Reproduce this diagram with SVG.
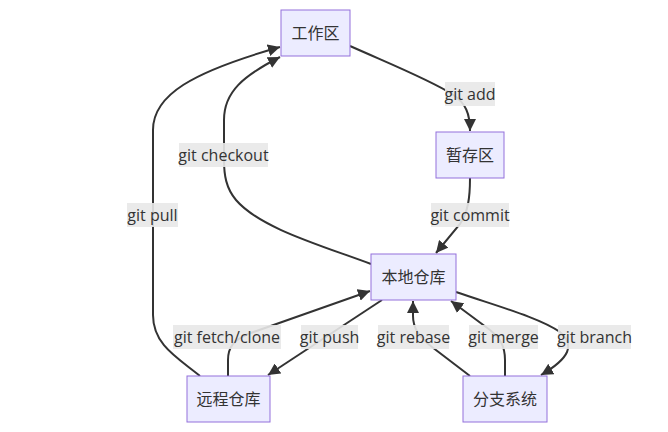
<svg xmlns="http://www.w3.org/2000/svg" width="668" height="432" viewBox="0 0 668 432">
<style>
.node rect{fill:#ECECFF;stroke:#9370DB;stroke-width:1}
.node text{font-family:"Open Sans","Noto Sans CJK SC",sans-serif;font-size:16px;fill:#333;text-anchor:middle;dominant-baseline:central}
.edge{fill:none;stroke:#333;stroke-width:2;marker-end:url(#arrow)}
.lbl rect{fill:#e8e8e8;opacity:0.9}
.lbl text{font-family:"Open Sans","Noto Sans CJK SC",sans-serif;font-size:16px;fill:#333;text-anchor:middle;dominant-baseline:central}
</style>
<defs>
<marker id="arrow" viewBox="0 0 10 10" refX="10" refY="5" markerUnits="userSpaceOnUse" markerWidth="12" markerHeight="12" orient="auto">
<path d="M0,0 L10,5 L0,10 z" fill="#333"/>
</marker>
</defs>
<rect width="668" height="432" fill="#fff"/>
<g id="connectors">
<path class="edge" d="M350,46 C395,66 430,80 452,94 C466,103 470,114 470,131"/>
<path class="edge" d="M470,178 C470,198 468,212 460,224 L436,253"/>
<path class="edge" d="M371,264 C320,245 260,228 236,200 C226,188 224,175 224,160 L224,120 C224,92 243,76 280,57"/>
<path class="edge" d="M200,376 C178,358 153,345 153,315 L153,130 C153,95 192,72 280,47"/>
<path class="edge" d="M228,376 L228,360 C228,347 234,340 248,334 L370,291"/>
<path class="edge" d="M382,300 L268,375"/>
<path class="edge" d="M470,376 L432,347 C419,337 413,328 413,316 L413,301"/>
<path class="edge" d="M505,376 L505,360 C505,346 500,338 490,330 L451,301"/>
<path class="edge" d="M456,292 C500,307 540,318 560,332 C575,345 570,358 541,375"/>
</g>
<g id="edge-labels">
<g class="lbl"><rect x="445" y="82" width="50" height="24"/><text x="470" y="94">git add</text></g>
<g class="lbl"><rect x="431" y="203" width="78" height="24"/><text x="470" y="215">git commit</text></g>
<g class="lbl"><rect x="179" y="143" width="89" height="24"/><text x="223.5" y="155">git checkout</text></g>
<g class="lbl"><rect x="127" y="203" width="51" height="24"/><text x="152.5" y="215">git pull</text></g>
<g class="lbl"><rect x="173" y="325" width="108" height="24"/><text x="227" y="337">git fetch/clone</text></g>
<g class="lbl"><rect x="301" y="325" width="57" height="24"/><text x="329.5" y="337">git push</text></g>
<g class="lbl"><rect x="378" y="325" width="71" height="24"/><text x="413.5" y="337">git rebase</text></g>
<g class="lbl"><rect x="469" y="325" width="69" height="24"/><text x="503.5" y="337">git merge</text></g>
<g class="lbl"><rect x="558" y="325" width="73" height="24"/><text x="594.5" y="337">git branch</text></g>
</g>
<g id="node-workspace" class="node"><rect x="281" y="10" width="69" height="46"/><text x="315.5" y="33">工作区</text></g>
<g id="node-stage" class="node"><rect x="436" y="132" width="68" height="46"/><text x="470" y="155">暂存区</text></g>
<g id="node-local" class="node"><rect x="371" y="254" width="85" height="46"/><text x="413.5" y="277">本地仓库</text></g>
<g id="node-remote" class="node"><rect x="187" y="376" width="83" height="46"/><text x="228.5" y="399">远程仓库</text></g>
<g id="node-branch" class="node"><rect x="463" y="376" width="84" height="46"/><text x="505" y="399">分支系统</text></g>
</svg>
